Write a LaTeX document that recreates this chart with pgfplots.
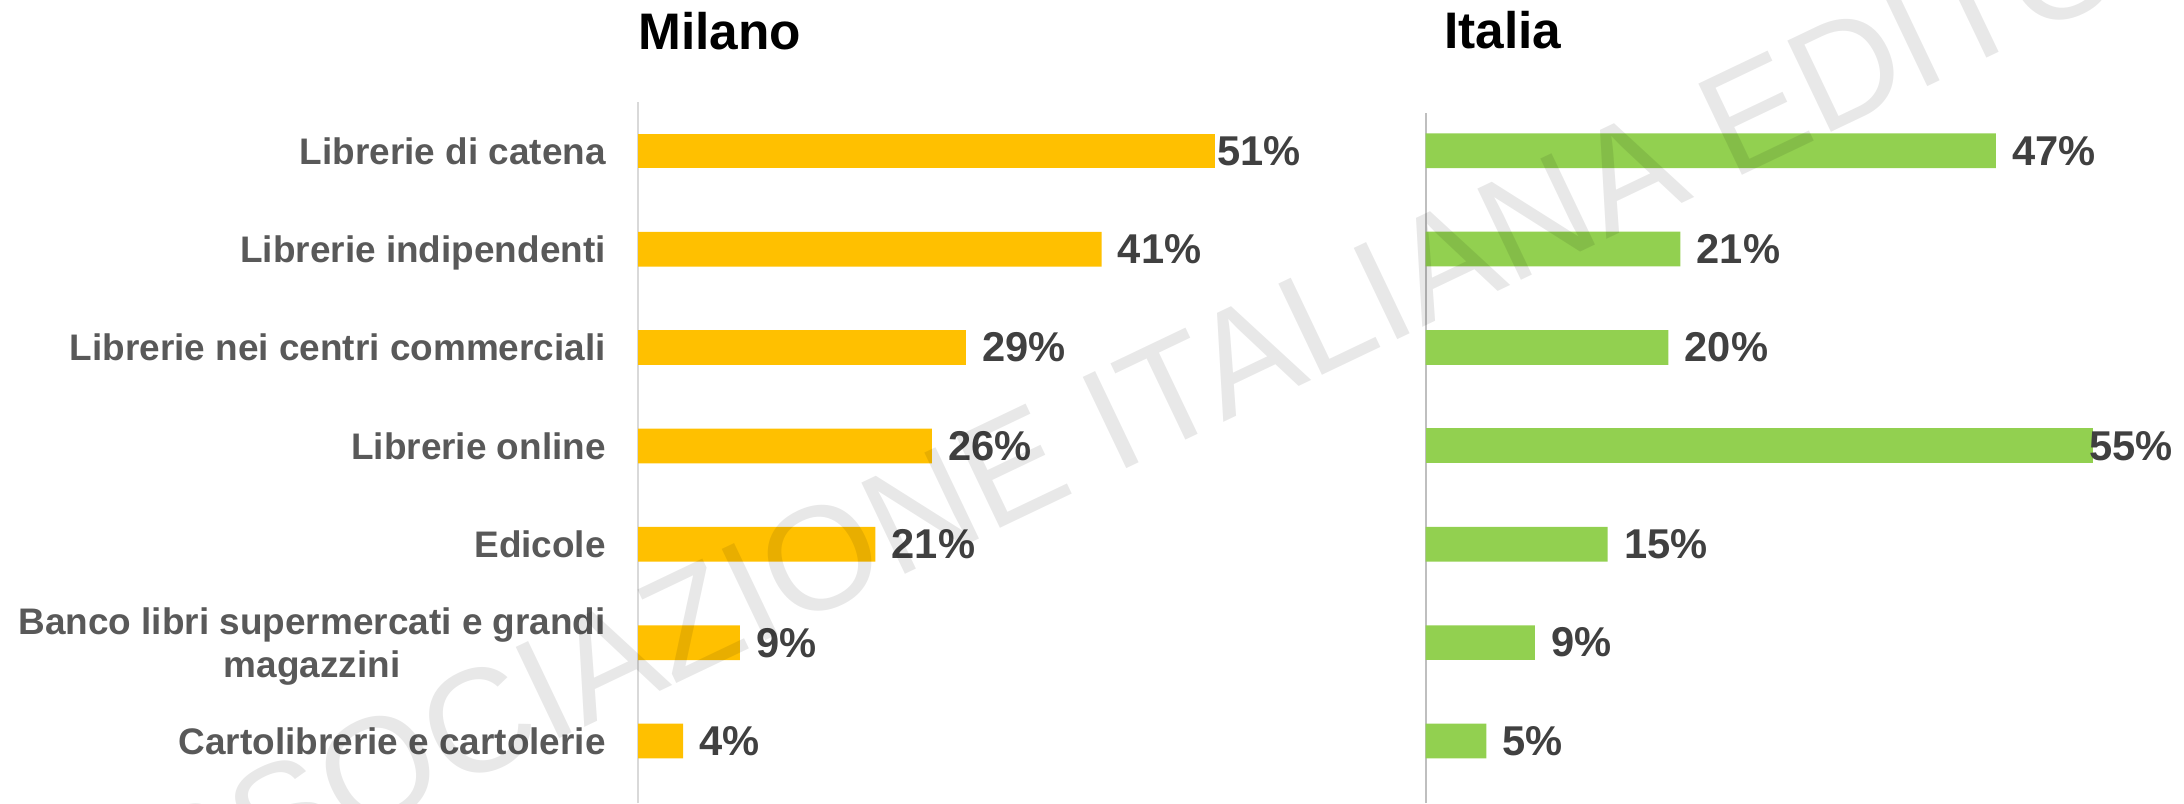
\documentclass[border=0pt]{standalone}
\usepackage{pgfplots}
\pgfplotsset{compat=1.18}
\usepackage{fontspec}
\setmainfont{Liberation Sans}
\definecolor{barY}{HTML}{FFC000}
\definecolor{barG}{HTML}{92D050}
\definecolor{catgray}{HTML}{595959}
\definecolor{valgray}{HTML}{404040}
\definecolor{lineL}{HTML}{D9D9D9}
\definecolor{lineR}{HTML}{BFBFBF}
\pgfplotsset{
  panel/.style={
    xbar, bar shift=0pt, bar width=12.5pt,
    scale only axis, clip=false, enlargelimits=false,
    xmin=0, xmax=60, ymin=-0.63,
    axis y line*=left, axis x line=none,
    xtick=\empty, ytick={0,...,6},
    major tick length=0pt, ytick style={draw=none},
    /pgf/number format/assume math mode=true,
    point meta=x,
    nodes near coords={\pgfmathprintnumber{\pgfplotspointmeta}\%},
    every node near coord/.style={anchor=west, inner sep=0pt, xshift=5.7pt,
      font=\fontsize{15}{17.5}\selectfont\bfseries, text=valgray},
  },
}
\begin{document}
\begin{tikzpicture}
\useasboundingbox (0,0) rectangle (786.24pt,289.08pt);
% Milano
\begin{axis}[panel,
  at={(229.68pt,0pt)}, anchor=south west,
  width=244.2pt, height=252.47pt, ymax=6.5,
  y axis line style={draw=lineL, line width=0.5pt, -},
  yticklabels={Cartolibrerie e cartolerie,
    {\raisebox{-0.585em}{\begin{tabular}[b]{@{}c@{}}Banco libri supermercati e grandi\\magazzini\end{tabular}}},
    Edicole, Librerie online, Librerie nei centri commerciali,
    Librerie indipendenti, Librerie di catena},
  yticklabel style={font=\fontsize{13.3}{15.6}\selectfont\bfseries, text=catgray,
    anchor=base east, inner sep=0pt, xshift=-11.4pt, yshift=-4.76pt},
]
\addplot[fill=barY, draw=none] coordinates {(41,5) (29,4) (26,3) (21,2) (9,1) (4,0)};
\addplot[fill=barY, draw=none,
  every node near coord/.append style={xshift=-4.8pt}] coordinates {(51,6)};
\end{axis}
% Italia
\begin{axis}[panel,
  at={(513.25pt,0pt)}, anchor=south west,
  width=262pt, height=248.29pt, ymax=6.38,
  y axis line style={draw=lineR, line width=0.8pt, -},
  yticklabels={},
]
\addplot[fill=barG, draw=none] coordinates {(47,6) (21,5) (20,4) (15,2) (9,1) (5,0)};
\addplot[fill=barG, draw=none,
  every node near coord/.append style={xshift=-7.2pt}] coordinates {(55,3)};
\end{axis}
\node[anchor=base west, inner sep=0pt, font=\fontsize{18.5}{22}\selectfont\bfseries] at (229.68pt,271.08pt) {Milano};
\node[anchor=base west, inner sep=0pt, font=\fontsize{18.5}{22}\selectfont\bfseries] at (519.73pt,271.69pt) {Italia};
\node[rotate=25.5, anchor=base, inner sep=0pt, font=\fontsize{52.9}{60}\selectfont,
  text=black, text opacity=0.09] at (423.07pt,128.7pt) {ASSOCIAZIONE ITALIANA EDITORI};
\end{tikzpicture}
\end{document}
